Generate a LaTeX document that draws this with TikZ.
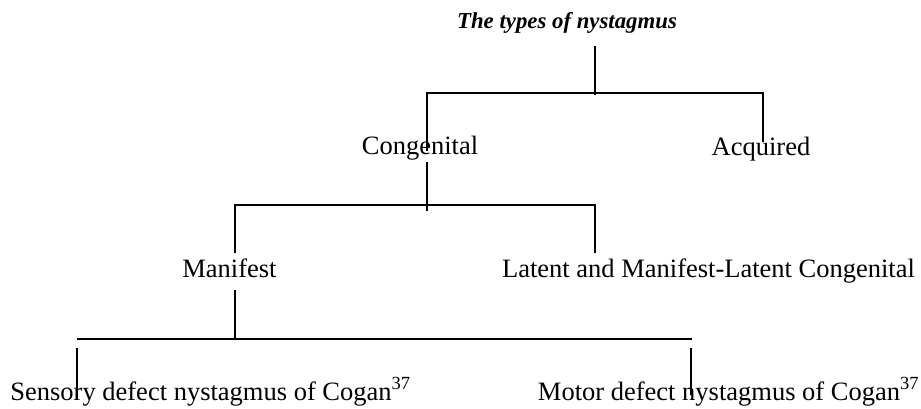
\documentclass[tikz,border=0pt]{standalone}
\usepackage{fontspec}
\setmainfont{Liberation Serif}
\usepackage{tikz}
\usetikzlibrary{positioning}

\begin{document}
\begin{tikzpicture}[x=0.5pt,y=-0.5pt,
                every node/.style={inner sep=0pt, anchor=base, font=\fontsize{13.25}{16}\selectfont},
                heading/.style={font=\fontsize{11.4}{14}\selectfont\bfseries\itshape},
                leaf/.style={anchor=base west},
                branch/.style={line width=1pt}
                ]
                \useasboundingbox (0,0) rectangle (921,408);
                % labels
                \node[heading] (types) at (567,28) {The types of nystagmus};
                \node (congenital) at (420,154) {Congenital};
                \node (acquired) at (761,155) {Acquired};
                \node (manifest) at (229.5,277) {Manifest};
                \node (latent) at (708.5,277) {Latent and Manifest-Latent Congenital};
                \node[leaf] (sensory) at (10,400) {Sensory defect nystagmus of Cogan\textsuperscript{37}};
                \node[leaf, anchor=base east] (motor) at (920,400) {Motor defect nystagmus of Cogan\textsuperscript{37}};
                % junctions
                \coordinate (top) at (595,46);
                \coordinate (j1) at (595,95);
                \coordinate (c1) at (427,93);
                \coordinate (a1) at (763,93);
                \coordinate (c2) at (427,162);
                \coordinate (j2) at (427,211);
                \coordinate (m1) at (235,205);
                \coordinate (l1) at (595,205);
                \coordinate (m2) at (235,290);
                \coordinate (s1) at (77,339);
                \coordinate (o1) at (692,339);
                \coordinate (s2) at (77,348);
                \coordinate (o2) at (691,348);
                % connectors
                \draw[branch] (top) -- (j1);
                \draw[branch] (congenital.base -| c1) ++(0,-3) -- (c1) -- (a1) -- ++(0,49);
                \draw[branch] (c2) -- (j2);
                \draw[branch] (m1) ++(0,48) -- (m1) -- (l1) -- ++(0,48);
                \draw[branch] (m2) -- (m2 |- s1);
                \draw[branch] (s1) -- (o1);
                \draw[branch] (s2) -- (sensory.base -| s2) ++(0,-5);
                \draw[branch] (o2) -- ++(0,47);
\end{tikzpicture}
\end{document}
